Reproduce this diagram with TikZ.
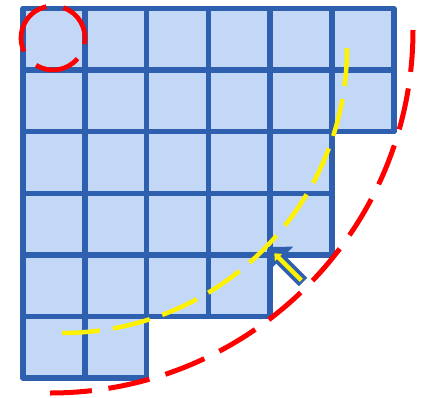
\documentclass[tikz,border=0pt]{standalone}
\usepackage[dvipsnames]{xcolor}
\usepackage{tikz}
\usetikzlibrary{arrows.meta,calc}
\definecolor{gridblue}{HTML}{2F5FAF}
\definecolor{cellfill}{HTML}{C3D7F7}
\tikzset{cell/.style={fill=cellfill,draw=gridblue,line width=5.5pt,line join=round},
 reddash/.style={red,line width=5pt,dash pattern=on 42pt off 16.7pt},
 yellowdash/.style={yellow,line width=4.5pt,dash pattern=on 38pt off 13.2pt}}

\begin{document}
\begin{tikzpicture}[x=1pt,y=-1pt]
 \useasboundingbox (0,0) rectangle (431,397);
 % staircase of cells: row / number of cells
 \foreach \r/\n in {0/6,1/6,2/5,3/5,4/4,5/2} { \foreach \c in {1,...,\n} { \filldraw[cell] ({23+61.8*(\c-1)},{8.5+61.6*\r}) rectangle ++(61.8,61.6); } }
 \coordinate (spot) at (53,38); \coordinate (inner) at (62,48); \coordinate (outer) at (50,30);
 \draw[yellowdash] (inner) ++(90:285) arc (90:0:285);
 \draw[reddash] (outer) ++(90:363) arc (90:0:363);
 \draw[red,line width=4.7pt] (spot) ++(40:32) arc (40:122:32) (spot) ++(155:32) arc (155:258:32) (spot) ++(289:32) arc (289:371:32);
 % arrow into the notch
 \coordinate (tail) at (303,282); \coordinate (tip) at (268,247);
 \draw[gridblue,line width=12pt,-{Triangle[width=35pt,length=17.5pt]}] (tail) -- (tip);
 \draw[yellow,line width=4.5pt,-{Triangle[width=10pt,length=6pt]}] ($(tail)!0.05!(tip)$) -- ($(tail)!0.82!(tip)$);
\end{tikzpicture}
\end{document}
